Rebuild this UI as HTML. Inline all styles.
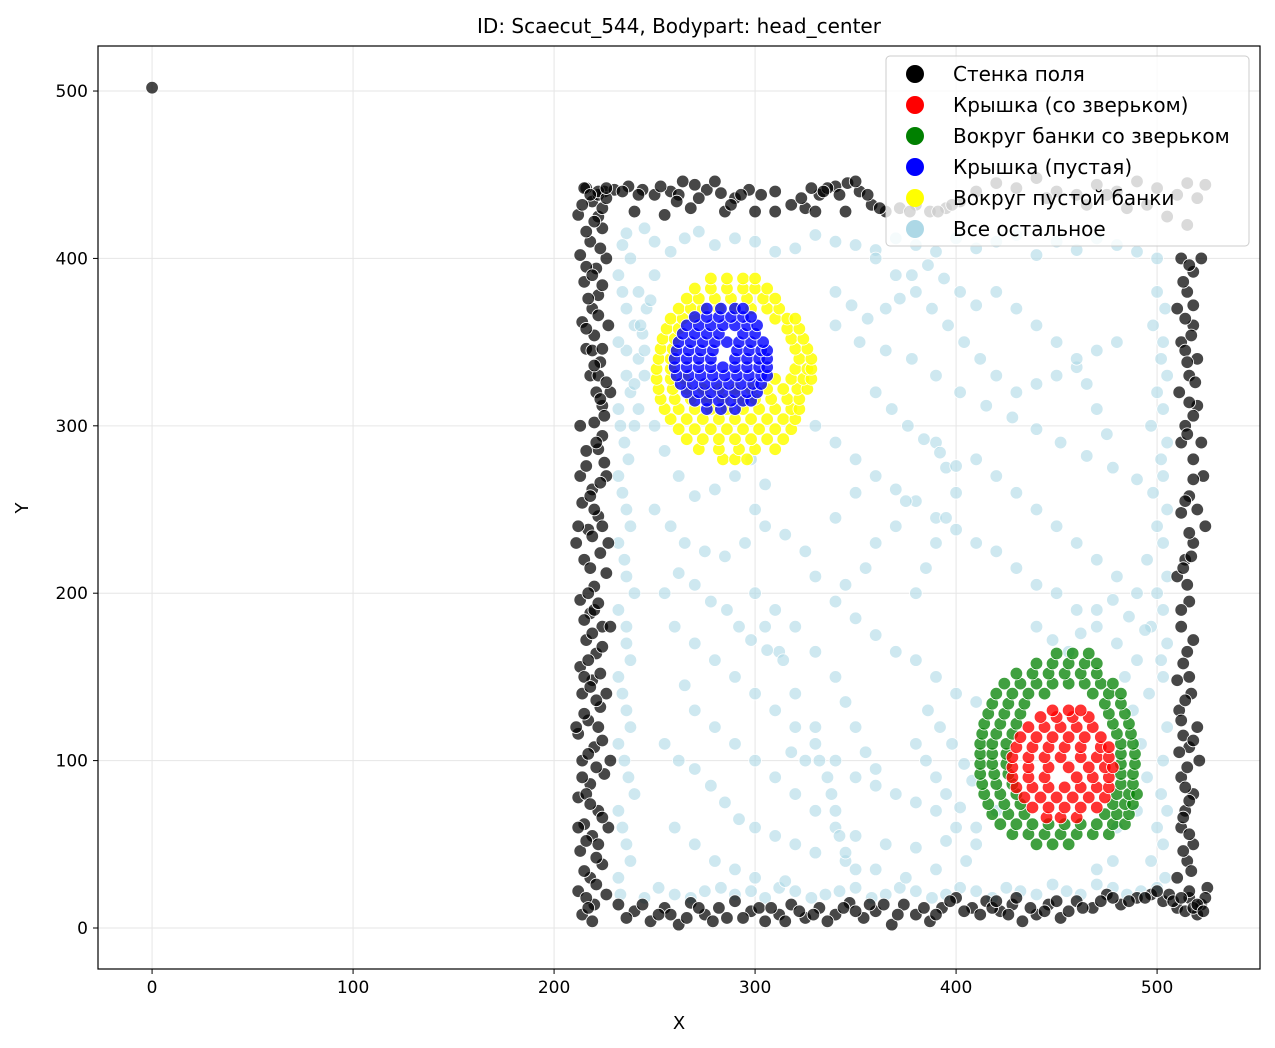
<!DOCTYPE html>
<html><head><meta charset="utf-8">
<style>
html,body{margin:0;padding:0;background:#fff;}
svg{display:block;font-family:"DejaVu Sans","Liberation Sans",sans-serif;}
</style></head>
<body>
<svg id="chart" width="1275" height="1048" viewBox="0 0 1275 1048">
<text x="679" y="33" font-size="20" text-anchor="middle">ID: Scaecut_544, Bodypart: head_center</text>
<g id="grid"></g>
<g id="pts"></g>
<rect x="98" y="46" width="1162" height="923" fill="none" stroke="#000" stroke-width="1.2"/>
<g id="axes"></g>
<text x="679" y="1029" font-size="18" text-anchor="middle">X</text>
<text x="28" y="508" font-size="18" text-anchor="middle" transform="rotate(-90 28 508)">Y</text>
<g id="legend"></g>
</svg>
<script>
const xTicks=[0,100,200,300,400,500];
const yTicks=[0,100,200,300,400,500];
const legendLabels=["Стенка поля","Крышка (со зверьком)","Вокруг банки со зверьком","Крышка (пустая)","Вокруг пустой банки","Все остальное"];
const legendColors=["#000000","#ff0000","#008000","#0000ff","#ffff00","#add8e6"];
const wallPts=[[0,502],
[214,8],[220,14],[212,22],[218,30],[224,38],[213,46],[219,55],[215,62],[222,70],[212,78],[218,86],[225,92],[214,100],[220,108],[212,116],[217,124],[223,132],[214,140],[219,148],[213,156],[221,164],[216,172],[224,180],[218,188],[213,196],[220,204],[226,212],[215,220],[211,230],[217,238],[222,246],[214,254],[219,262],[213,270],[225,278],[222,286],[224,294],[220,302],[224,312],[221,320],[218,330],[223,338],[216,346],[220,354],[214,362],[219,370],[222,378],[215,386],[221,394],[213,402],[218,410],[224,418],[212,426],[219,434],[216,442],
[226,20],[227,60],[228,100],[226,140],[228,180],[227,230],[226,270],[228,320],[227,360],[226,400],[225,440],[212,60],[211,120],[212,240],[213,300],[216,18],[222,50],[216,80],[222,120],[215,150],[220,190],[218,215],[220,250],[216,285],[222,330],[219,345],[216,395],[222,425],[214,432],[219,4],
[217,12],[221,26],[215,34],[221,42],[216,52],[224,66],[218,74],[214,90],[221,96],[217,104],[224,112],[215,128],[221,136],[218,144],[223,152],[217,160],[224,168],[219,176],[215,184],[222,194],[217,200],[223,224],[219,234],[224,240],[218,258],[223,266],[216,276],[221,290],[225,306],[223,316],[226,326],[220,336],[224,346],[216,358],[222,366],[217,376],[224,384],[219,390],[223,406],[216,416],[220,422],[224,430],[222,438],
[232,14],[240,10],[248,4],[255,12],[262,2],[268,15],[275,8],[282,12],[290,16],[298,10],[305,4],[312,8],[318,14],[325,6],[332,12],[340,8],[347,15],[354,6],[360,10],[368,2],[374,14],[380,8],[387,4],[393,12],[400,18],[408,12],[415,16],[422,10],[428,14],[433,4],[440,8],[446,14],[452,6],[460,16],[468,12],[475,20],[482,14],[490,18],[497,20],[503,16],[510,12],[516,18],[522,14],[520,8],[525,24],[514,10],[506,20],[236,6],[258,8],[286,6],[302,12],[322,10],[336,4],[350,10],[364,14],[390,8],[418,12],[437,12],[456,10],[430,18],[412,8],
[244,14],[252,8],[266,6],[272,12],[279,4],[294,6],[308,12],[315,4],[329,8],[344,12],[357,14],[371,8],[384,12],[397,16],[404,10],[420,16],[426,8],[444,10],[450,16],[463,12],[472,16],[478,18],[486,16],[494,18],[500,22],[508,16],[518,12],[524,18],
[215,442],[222,440],[230,441],[237,443],[244,441],[250,438],[258,440],[264,446],[270,444],[276,441],[283,439],[290,436],[297,441],[303,438],[310,440],[318,432],[325,430],[332,438],[340,443],[346,445],[352,440],[358,432],[365,428],[372,430],[380,432],[387,428],[395,430],[402,434],[240,428],[255,426],[268,430],[285,428],[300,428],[310,428],[330,428],[345,428],[226,436],[262,438],[280,446],[336,442],
[218,438],[226,442],[234,440],[242,438],[253,443],[261,434],[272,436],[288,432],[293,438],[323,436],[328,442],[334,440],[342,438],[350,446],[356,438],[362,430],[377,428],[391,428],[398,432],
[410,440],[420,445],[430,442],[440,448],[450,440],[460,438],[470,444],[480,440],[490,446],[500,442],[510,438],[520,436],[524,444],[515,420],[505,425],[495,432],[485,430],[445,436],[465,432],[475,438],[515,445],
[512,400],[518,392],[522,400],[515,380],[510,370],[518,360],[512,350],[520,340],[516,330],[511,320],[520,312],[514,300],[522,290],[518,280],[523,270],[516,258],[524,240],[512,248],[518,230],[514,220],[510,210],[516,195],[512,180],[515,165],[510,148],[517,140],[511,130],[520,120],[516,108],[521,100],[512,90],[518,80],[514,70],[512,60],[518,50],[515,40],[510,30],[516,22],[520,14],[523,10],[514,345],[512,290],[514,255],[513,215],[513,115],[511,105],
[516,396],[513,386],[518,372],[514,364],[517,354],[515,338],[519,326],[516,314],[518,306],[515,295],[518,268],[520,250],[516,236],[517,222],[515,205],[512,190],[518,172],[513,158],[516,150],[514,136],[512,124],[518,112],[515,96],[514,84],[516,76],[513,66],[516,56],[513,46],[517,34],[512,18]];
const otherPts=[[233,20],[238,40],[234,60],[240,80],[235,100],[238,120],[234,140],[238,160],[236,180],[240,200],[235,220],[238,240],[234,260],[237,280],[233,300],[238,320],[236,345],[240,360],[234,380],[238,400],[236,415],
[232,30],[236,50],[232,70],[237,90],[232,110],[236,130],[232,150],[236,170],[232,190],[236,210],[232,230],[236,250],[232,270],[235,290],[232,310],[236,330],[232,350],[236,370],[232,390],[234,408],[242,340],[240,325],[244,355],[246,370],[242,380],[240,300],
[245,18],[260,20],[275,22],[290,20],[305,18],[320,22],[335,20],[350,24],[365,20],[380,22],[395,20],[410,22],[425,24],[440,20],[455,22],[470,26],[485,20],[500,24],
[252,24],[268,18],[283,24],[298,22],[312,24],[328,18],[342,22],[358,18],[372,24],[388,18],[402,24],[418,18],[432,22],[448,26],[462,20],[478,24],[492,22],
[250,410],[265,412],[280,408],[300,410],[320,406],[340,410],[360,405],[380,408],[400,412],[420,410],[440,402],[460,405],[480,408],[500,400],
[245,418],[258,404],[272,416],[290,412],[310,404],[330,414],[350,408],[370,412],[390,404],[410,406],[430,414],[450,410],[470,412],[490,404],
[500,380],[498,360],[502,340],[500,320],[497,300],[502,280],[498,260],[500,240],[495,220],[500,200],[497,180],[502,160],[496,140],[500,60],[497,40],[502,80],
[504,370],[503,350],[505,330],[503,310],[505,290],[503,270],[505,250],[503,230],[505,210],[503,190],[505,170],[503,150],[505,120],[503,100],[505,70],[503,50],[504,30],
[250,250],[258,240],[265,230],[275,225],[285,222],[295,230],[305,240],[315,235],[325,225],[330,210],[340,195],[350,185],[360,175],[370,165],[380,160],[390,150],[400,140],[410,135],
[260,180],[270,170],[280,160],[290,150],[300,140],[310,130],[320,120],[330,110],[340,100],[350,90],[360,85],[370,80],[380,75],[390,70],[400,60],[410,50],
[255,110],[262,100],[270,95],[278,85],[285,75],[292,65],[300,60],[310,55],[320,50],[330,45],[345,40],[360,35],[375,30],[390,35],[405,40],
[330,300],[340,290],[350,280],[360,270],[370,262],[380,255],[390,245],[400,238],[410,230],[420,225],[430,215],[440,205],[450,200],[460,190],[470,180],[480,170],[490,160],
[340,360],[352,350],[365,345],[378,340],[390,330],[402,320],[415,312],[428,305],[440,298],[452,290],[465,282],[478,275],[490,268],
[360,400],[370,390],[380,380],[388,370],[396,360],[404,350],[412,340],[420,330],[430,320],[440,325],[450,330],[460,335],[470,345],[480,350],
[300,250],[305,265],[298,280],[290,270],[280,262],[270,258],[262,270],[255,285],[250,300],
[410,280],[420,270],[430,260],[440,250],[450,240],[460,230],[470,220],[480,210],[490,200],
[300,200],[310,190],[320,180],[330,165],[340,150],[345,135],[350,120],[355,105],[360,95],
[260,60],[270,50],[280,40],[290,35],[300,30],[315,28],
[420,380],[430,370],[440,360],[450,350],[460,340],[465,325],[470,310],[475,295],
[380,200],[385,215],[390,230],[395,245],[400,260],[395,275],[390,290],
[320,80],[330,70],[340,60],[350,55],[365,50],[380,48],[395,52],[410,60],[420,70],
[245,330],[245,345],[243,360],[248,375],[250,390],[242,310],
[480,60],[490,70],[495,90],[492,110],[488,130],[484,150],[478,40],[470,35],
[360,230],[370,240],[375,255],[355,215],[345,205],[340,245],[350,260],
[270,130],[280,120],[290,110],[300,100],[310,90],[265,145],
[340,70],[342,55],[345,45],[350,35],[338,80],[336,90],[332,100],[325,100],[318,105],[330,120],[320,140],[312,165],[305,180],
[340,380],[348,372],[356,364],[365,370],[372,376],[378,390],[386,396],[394,388],[402,380],[410,372],
[440,180],[448,172],[456,165],[462,176],[470,190],[478,196],[486,186],[494,178],
[255,200],[262,212],[270,205],[278,195],[286,190],[292,180],[298,172],[306,166],[314,160],
[380,110],[385,100],[390,90],[395,80],[402,72],[408,88],[404,98],[398,110],[392,120],[386,130],
[360,320],[368,310],[376,300],[384,292],[392,284],[400,276]];
const yellowRowsY=[280,286,292,298,304,310,316,322,328,334,340,346,352,358,364,370,376,382,388];
const yellowRowsX=[[284,290,296],[272,282,292,300,310],[266,274,282,290,298,306,314],[262,270,278,286,294,302,310,318],[258,266,274,282,290,298,306,314,320],[255,262,270,278,286,294,302,310,318,322],[253,260,268,276,284,292,300,308,316,322],[252,259,266,274,282,290,298,306,314,321,326],[251,258,265,310,318,324,328],[251,258,320,326,328],[252,258,322,328],[253,259,320,326],[254,260,318,324],[256,262,316,322],[258,264,270,310,316,320],[262,268,274,282,290,298,306,312],[266,272,280,288,296,304,310],[270,278,286,294,300,306],[278,286,294,300]];
const blueRowsY=[310,315,320,325,330,335,340,345,350,355,360,365,370];
const blueRowsX=[[276,283,290],[270,276,282,288,294,298],[266,272,278,284,290,296,301],[263,269,275,281,287,293,299,303],[261,267,273,279,285,291,297,303,306],[260,266,272,278,284,290,296,302,306],[260,266,272,278,290,296,302,306],[261,267,273,279,291,297,303,306],[262,268,274,280,286,292,298,304],[264,270,276,282,294,300],[266,272,278,284,290,296,301],[270,276,282,288,294,298],[276,283,290,294]];
const greenRowsY=[50,56,62,68,74,80,86,92,98,104,110,116,122,128,134,140,146,152,158,164];
const greenRowsX=[[440,448,456],[428,436,444,452,460,468,476],[422,430,438,446,454,462,470,478,484],[418,426,434,474,480,486],[416,424,432,478,484,488],[414,422,430,480,486,490],[413,420,428,482,488],[412,419,426,482,488],[412,418,425,482,489],[412,418,425,482,489],[412,418,425,482,488],[413,420,428,480,487],[414,422,430,478,486],[416,424,432,476,484],[418,426,434,474,482],[420,428,436,444,468,476,482],[424,432,440,448,456,464,472,478],[430,438,446,454,462,470],[440,448,456,464,470],[450,458,466]];
const redRowsY=[66,72,78,84,90,96,102,108,114,120,126,130];
const redRowsX=[[445,452,460],[438,446,454,462,470],[434,442,450,458,466,474],[430,438,446,454,462,470,476],[428,436,444,460,468,476],[428,436,446,456,466,474,478],[428,436,444,452,462,470,476],[430,438,446,454,462,472,476],[432,440,448,456,464,472],[436,444,452,460,468],[442,450,458,466],[448,456,462]];

const NS="http://www.w3.org/2000/svg";
const X0=-26.9,X1=551.2,Y0=-24.5,Y1=526.9,L=98,R=1260,T=46,B=969;
function sx(v){return L+(v-X0)/(X1-X0)*(R-L);}
function sy(v){return B-(v-Y0)/(Y1-Y0)*(B-T);}
const grid=document.getElementById('grid'),axes=document.getElementById('axes'),pts=document.getElementById('pts');
function mk(tag,attrs,parent){const e=document.createElementNS(NS,tag);for(const k in attrs)e.setAttribute(k,attrs[k]);parent.appendChild(e);return e;}
xTicks.forEach(t=>{
 const x=sx(t);
 const g=mk('line',{x1:x,x2:x,y1:T,y2:B,stroke:'#e6e6e6','stroke-width':1},grid);
 
 
 const tk=mk('line',{x1:x,x2:x,y1:B,y2:B+5,stroke:'#000'},axes);
 
 
 const lb=mk('text',{x:x,y:B+24,'font-size':17,'text-anchor':'middle'},axes);
 lb.textContent=t;
 
 
});
yTicks.forEach(t=>{
 const y=sy(t);
 const g=mk('line',{x1:L,x2:R,y1:y,y2:y,stroke:'#e6e6e6','stroke-width':1},grid);
 
 
 const tk=mk('line',{x1:L-5,x2:L,y1:y,y2:y,stroke:'#000'},axes);
 
 
 const lb=mk('text',{x:L-10,y:y+6,'font-size':17,'text-anchor':'end'},axes);
 lb.textContent=t;
 
 
});
function dot(x,y,color,op,name){
 const c=mk('circle',{cx:sx(x),cy:sy(y),r:6.3,fill:color,'fill-opacity':op,stroke:'#fff','stroke-width':0.8},pts);
 
 
}
otherPts.forEach(p=>dot(p[0],p[1],'#add8e6',0.6,'point-other'));
wallPts.forEach(p=>dot(p[0],p[1],'#000000',0.72,'point-wall'));
yellowRowsY.forEach((y,i)=>yellowRowsX[i].forEach(x=>dot(x,y,'#ffff00',0.85,'point-around-empty-jar')));
blueRowsY.forEach((y,i)=>blueRowsX[i].forEach(x=>dot(x,y,'#0000ff',0.8,'point-empty-lid')));
greenRowsY.forEach((y,i)=>greenRowsX[i].forEach(x=>dot(x,y,'#008000',0.75,'point-around-animal-jar')));
redRowsY.forEach((y,i)=>redRowsX[i].forEach(x=>dot(x,y,'#ff0000',0.8,'point-animal-lid')));
const lg=document.getElementById('legend');
const box=mk('rect',{x:886,y:56,width:363,height:190,rx:4,fill:'#fff','fill-opacity':0.8,stroke:'#ccc','stroke-width':1},lg);


legendLabels.forEach((lab,i)=>{
 const y=74+i*31;
 const c=mk('circle',{cx:915,cy:y,r:9,fill:legendColors[i]},lg);
 
 
 const t=mk('text',{x:953,y:y+7,'font-size':20},lg);
 t.textContent=lab;
 
 
});
</script>
</body></html>
